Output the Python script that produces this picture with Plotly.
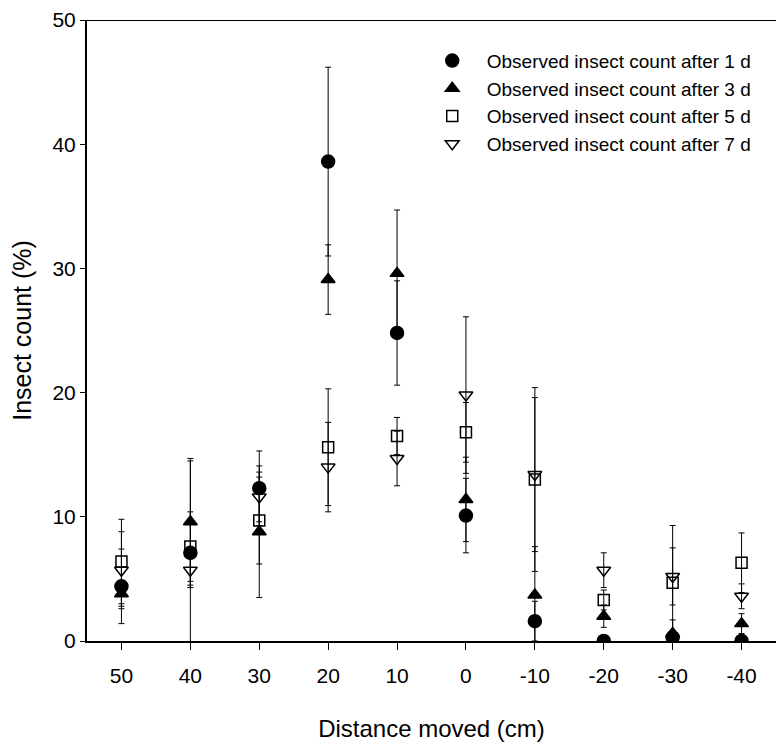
import plotly.graph_objects as go

distance = [50, 40, 30, 20, 10, 0, -10, -20, -30, -40]
tick_labels = ["50", "40", "30", "20", "10", "0", "-10", "-20", "-30", "-40"]

day1 = [4.4, 7.1, 12.3, 38.6, 24.8, 10.1, 1.6, 0.0, 0.3, 0.0]
day1_err = [3.0, 7.4, 3.0, 7.6, 4.2, 3.0, 1.6, 0.0, 0.5, 0.0]
day3 = [3.8, 9.6, 8.8, 29.1, 29.6, 11.4, 3.7, 2.0, 0.6, 1.4]
day3_err = [1.0, 5.1, 5.3, 2.8, 5.1, 3.4, 3.9, 0.9, 1.1, 0.8]
day5 = [6.4, 7.6, 9.7, 15.6, 16.5, 16.8, 13.0, 3.3, 4.7, 6.3]
day5_err = [3.4, 2.8, 3.5, 4.7, 1.5, 2.4, 7.4, 0.8, 4.6, 2.4]
day7 = [5.7, 5.7, 11.6, 14.0, 14.7, 19.8, 13.4, 5.7, 5.2, 3.6]
day7_err = [3.1, 1.4, 2.0, 3.6, 2.2, 6.3, 6.2, 1.4, 2.3, 1.0]

names = ["Observed insect count after 1 d", "Observed insect count after 3 d",
         "Observed insect count after 5 d", "Observed insect count after 7 d"]
series = [day1, day3, day5, day7]
errors = [day1_err, day3_err, day5_err, day7_err]
symbols = ["circle", "triangle-up", "square-open", "triangle-down-open"]
sizes = [13, 12, 11, 12]

FONT = "Liberation Sans, Arial, sans-serif"

fig = go.Figure()
for name, ys, es, sym, sz in zip(names, series, errors, symbols, sizes):
    fig.add_trace(go.Scatter(
        x=distance, y=ys, mode="markers", name=name,
        marker=dict(symbol=sym, size=sz, color="black",
                    line=dict(color="black", width=1.5)),
        error_y=dict(type="data", array=es, visible=True,
                     color="black", thickness=1, width=3),
    ))

fig.add_shape(type="line", xref="paper", yref="y", x0=-0.007, x1=1, y0=50, y1=50,
              line=dict(color="black", width=2))

fig.update_layout(
    width=776, height=749,
    margin=dict(l=87, r=0, t=20, b=108),
    plot_bgcolor="white", paper_bgcolor="white",
    font=dict(family=FONT, color="black", size=20),
    showlegend=True,
    legend=dict(x=0.48, y=0.965, xanchor="left", yanchor="top",
                font=dict(size=19, family=FONT), bgcolor="rgba(0,0,0,0)",
                tracegroupgap=0, itemwidth=59),
    xaxis=dict(range=[55, -45], tickvals=distance, ticktext=tick_labels,
               showgrid=False, zeroline=False, showline=True, linecolor="black",
               linewidth=2, ticks="outside", ticklen=7, tickcolor="black",
               ticklabelstandoff=8,
               tickfont=dict(size=21, family=FONT),
               title=dict(text="Distance moved (cm)", font=dict(size=24, family=FONT),
                          standoff=34)),
    yaxis=dict(range=[0, 50], dtick=10, showgrid=False, zeroline=False,
               showline=True, linecolor="black", linewidth=2, ticks="outside",
               ticklen=5, tickcolor="black", tickfont=dict(size=21, family=FONT),
               title=dict(text="Insect count (%)", font=dict(size=25, family=FONT),
                          standoff=14)),
)

fig.write_html("out.html")
